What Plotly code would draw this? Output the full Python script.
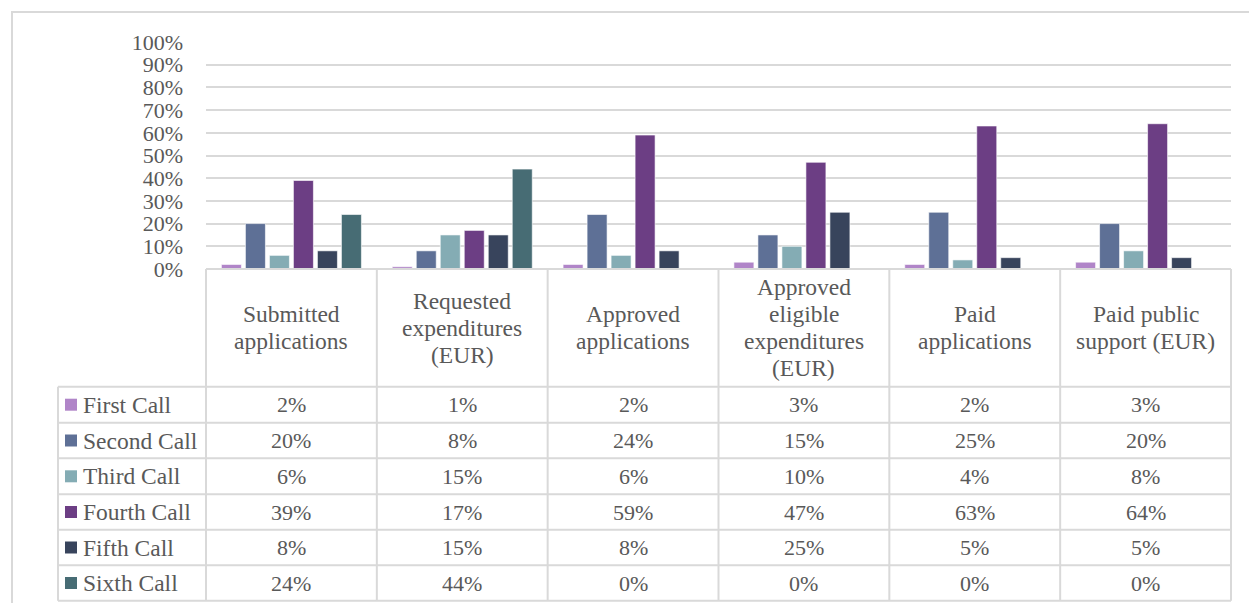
import plotly.graph_objects as go

# Category labels, split into the lines shown in the table header
category_lines = [
    ["Submitted", "applications"],
    ["Requested", "expenditures", "(EUR)"],
    ["Approved", "applications"],
    ["Approved", "eligible", "expenditures", "(EUR)"],
    ["Paid", "applications"],
    ["Paid public", "support (EUR)"],
]
categories = [" ".join(lines) for lines in category_lines]

series_names = ["First Call", "Second Call", "Third Call", "Fourth Call", "Fifth Call", "Sixth Call"]
series_colors = ["#B085C8", "#5E7096", "#84ACB4", "#6C3E84", "#38445C", "#476C74"]

# Share of each call (percent) per indicator
first_call = [2, 1, 2, 3, 2, 3]
second_call = [20, 8, 24, 15, 25, 20]
third_call = [6, 15, 6, 10, 4, 8]
fourth_call = [39, 17, 59, 47, 63, 64]
fifth_call = [8, 15, 8, 25, 5, 5]
sixth_call = [24, 44, 0, 0, 0, 0]
series_values = [first_call, second_call, third_call, fourth_call, fifth_call, sixth_call]

W, H = 1249, 603
PLOT_L, PLOT_R, PLOT_T, PLOT_B = 206, 1231, 42, 269
FONT = "Liberation Serif"
TEXT = "#595959"
LINE = "#D9D9D9"
FS_NUM = 22     # numbers: tick labels and table values
FS_TXT = 23.5   # words: header and series names


def px(x):
    return (x - PLOT_L) / (PLOT_R - PLOT_L)


def py(y):
    return (PLOT_B - y) / (PLOT_B - PLOT_T)


fig = go.Figure()
for name, color, vals in zip(series_names, series_colors, series_values):
    fig.add_trace(go.Bar(
        x=categories,
        y=[v / 100 for v in vals],
        name=name,
        marker=dict(color=color, line=dict(color="rgba(255,255,255,0.6)", width=1)),
    ))

shapes = []
annotations = []

# outer chart frame
shapes.append(dict(type="rect", xref="paper", yref="paper",
                   x0=px(12), x1=px(1262), y0=py(12), y1=py(620),
                   line=dict(color=LINE, width=2), fillcolor="rgba(0,0,0,0)", layer="below"))

# data table grid
header_bottom = 386.7
row_edges = [386.7, 422.7, 458.3, 494.3, 529.7, 565.3, 600.7]
table_left = 58
col_edges = [PLOT_L + i * (PLOT_R - PLOT_L) / 6 for i in range(7)]

shapes.append(dict(type="line", xref="paper", yref="paper",
                   x0=px(PLOT_L), x1=px(PLOT_R), y0=py(PLOT_B), y1=py(PLOT_B),
                   line=dict(color=LINE, width=2)))
for ye in row_edges:
    shapes.append(dict(type="line", xref="paper", yref="paper",
                       x0=px(table_left), x1=px(PLOT_R), y0=py(ye), y1=py(ye),
                       line=dict(color=LINE, width=2)))
for xe in col_edges:
    shapes.append(dict(type="line", xref="paper", yref="paper",
                       x0=px(xe), x1=px(xe), y0=py(PLOT_B), y1=py(row_edges[-1]),
                       line=dict(color=LINE, width=2)))
shapes.append(dict(type="line", xref="paper", yref="paper",
                   x0=px(table_left), x1=px(table_left), y0=py(header_bottom), y1=py(row_edges[-1]),
                   line=dict(color=LINE, width=2)))

# header labels
header_mid = (PLOT_B + header_bottom) / 2
line_step = 27
for cat, lines in zip(categories, category_lines):
    n = len(lines)
    for k, txt in enumerate(lines):
        yy = header_mid + (k - (n - 1) / 2) * line_step
        annotations.append(dict(x=cat, xref="x", y=py(yy), yref="paper", text=txt,
                                showarrow=False, xanchor="center", yanchor="middle",
                                font=dict(family=FONT, size=FS_TXT, color=TEXT)))

# legend keys, series names and values
for r, (name, color, vals) in enumerate(zip(series_names, series_colors, series_values)):
    yc = (row_edges[r] + row_edges[r + 1]) / 2
    shapes.append(dict(type="rect", xref="paper", yref="paper",
                       x0=px(65), x1=px(77), y0=py(yc - 6), y1=py(yc + 6),
                       line=dict(width=0), fillcolor=color))
    annotations.append(dict(x=px(81), xref="paper", y=py(yc), yref="paper", text=name,
                            showarrow=False, xanchor="left", yanchor="middle",
                            font=dict(family=FONT, size=FS_TXT, color=TEXT)))
    for cat, v in zip(categories, vals):
        annotations.append(dict(x=cat, xref="x", y=py(yc), yref="paper", text=f"{v}%",
                                showarrow=False, xanchor="center", yanchor="middle",
                                font=dict(family=FONT, size=FS_NUM, color=TEXT)))

fig.update_layout(
    width=W, height=H,
    margin=dict(l=PLOT_L, r=W - PLOT_R, t=PLOT_T, b=H - PLOT_B, pad=0),
    paper_bgcolor="white", plot_bgcolor="white",
    barmode="group", bargap=0.157, bargroupgap=0.167,
    showlegend=False,
    shapes=shapes, annotations=annotations,
    font=dict(family=FONT, size=FS_NUM, color=TEXT),
)
fig.update_xaxes(showticklabels=False, showgrid=False, zeroline=False, showline=False,
                 range=[-0.5, 5.5], fixedrange=True)
fig.update_yaxes(range=[0, 1], dtick=0.1, tickformat=".0%", showgrid=True, gridcolor=LINE,
                 gridwidth=2, zeroline=False, showline=False, ticks="",
                 ticklabelstandoff=22, tickfont=dict(family=FONT, size=FS_NUM, color=TEXT),
                 fixedrange=True)

fig.write_html("out.html")
